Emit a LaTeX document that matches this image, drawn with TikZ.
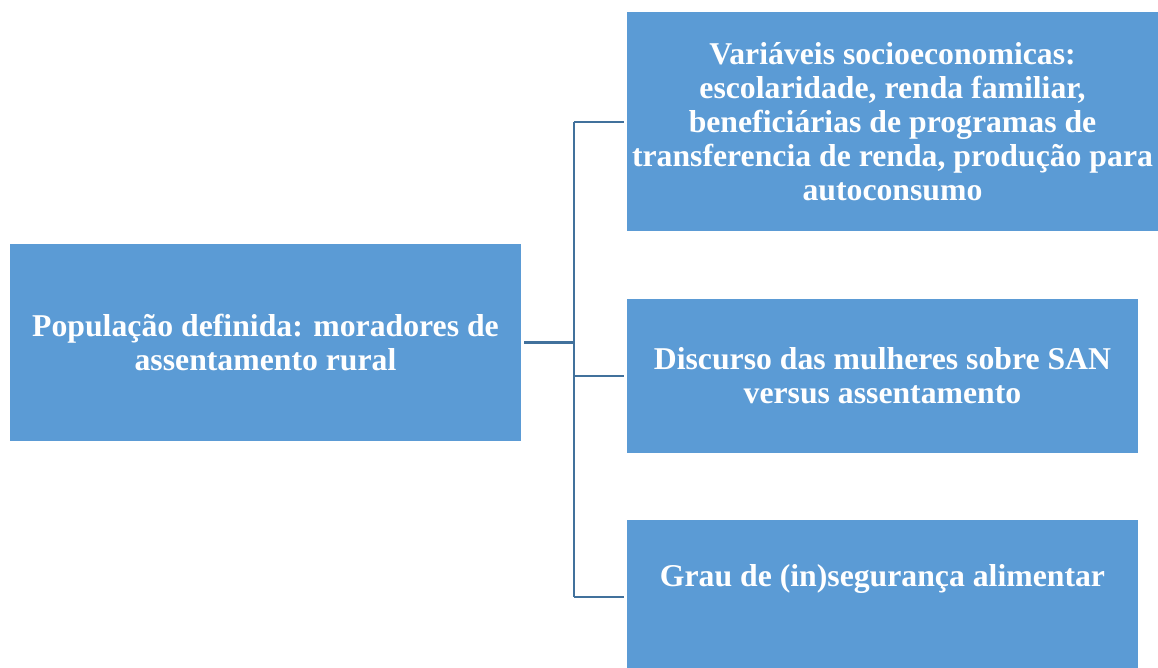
\documentclass[tikz,border=0pt]{standalone}
\usepackage{fontspec}
\setmainfont{Liberation Serif}
\definecolor{boxblue}{HTML}{5B9BD5}
\definecolor{linkblue}{HTML}{41719C}
\begin{document}
\begin{tikzpicture}[x=0.75pt,y=-0.75pt,
  box/.style={fill=boxblue, draw=none, text=white, inner sep=0pt, align=center,
    font=\bfseries\fontsize{23.8}{25.6}\selectfont},
  link/.style={draw=linkblue, line width=2.2pt}]
\useasboundingbox (0,0) rectangle (1158,668);
\node[box, minimum width=383.25pt, minimum height=147.75pt] (pop) at (265.5,342.5)
  {População definida: moradores de\\assentamento rural};
\node[box, minimum width=398.25pt, minimum height=164.25pt] (var) at (892.5,121.5)
  {Variáveis socioeconomicas:\\escolaridade, renda familiar,\\beneficiárias de programas de\\transferencia de renda, produção para\\autoconsumo};
\node[box, minimum width=383.25pt, minimum height=111pt, text height=15pt, text depth=26pt] (grau) at (882.5,594)
  {Grau de (in)segurança alimentar};
\node[box, minimum width=383.25pt, minimum height=115.5pt] (disc) at (882.5,376)
  {Discurso das mulheres sobre SAN\\versus assentamento};
\coordinate (ttop) at (574,122);
\coordinate (tbot) at (574,597);
\draw[link] (ttop) -- (tbot);
\draw[link, shorten <=2.2pt] (pop.east) -- (pop.east -| ttop);
\draw[link, shorten >=2.2pt] (ttop) -- (ttop -| var.west);
\draw[link, shorten >=2.2pt] (disc.west -| ttop) -- (disc.west);
\draw[link, shorten >=2.2pt] (tbot) -- (tbot -| grau.west);
\end{tikzpicture}
\end{document}
